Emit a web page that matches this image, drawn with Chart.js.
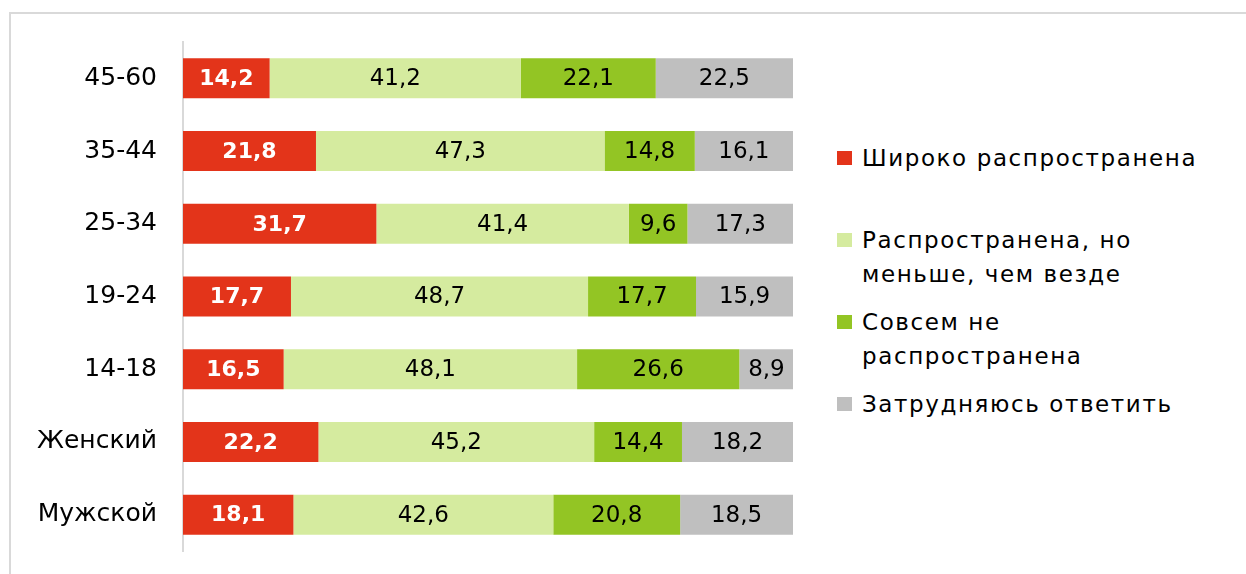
<!DOCTYPE html>
<html>
<head>
<meta charset="utf-8">
<script src="https://cdn.jsdelivr.net/npm/chart.js@4.4.1/dist/chart.umd.min.js"></script>
<style>
  html, body { margin: 0; background: #fff; overflow: hidden; font-family: "DejaVu Sans", sans-serif; }
  #frame { position: absolute; left: 9px; top: 12px; width: 1237px; height: 562px;
           border-left: 2px solid #d9d9d9; border-top: 2px solid #d9d9d9; box-sizing: border-box; }
  #wrap { position: absolute; left: 0; top: 0; width: 830px; height: 574px; }
  #legend { position: absolute; left: 837px; top: 141px; margin: 0; padding: 0; list-style: none;
            font-size: 23px; line-height: 34px; letter-spacing: 1.6px; color: #000; }
  #legend li { position: relative; padding-left: 25px; margin-bottom: 14px; white-space: nowrap; }
  #legend li:first-child { margin-bottom: 48px; }
  #legend li span { position: absolute; left: 0; top: 10px; width: 15px; height: 14px; }
</style>
</head>
<body>
<div id="frame"></div>
<div id="wrap"><canvas id="chart"></canvas></div>
<ul id="legend"></ul>
<script>
const categories = ["45-60", "35-44", "25-34", "19-24", "14-18", "Женский", "Мужской"];
const seriesNames = ["Широко распространена", "Распространена, но\nменьше, чем везде", "Совсем не\nраспространена", "Затрудняюсь ответить"];
const widespread = [14.2, 21.8, 31.7, 17.7, 16.5, 22.2, 18.1];
const lessThanElsewhere = [41.2, 47.3, 41.4, 48.7, 48.1, 45.2, 42.6];
const notAtAll = [22.1, 14.8, 9.6, 17.7, 26.6, 14.4, 20.8];
const hardToSay = [22.5, 16.1, 17.3, 15.9, 8.9, 18.2, 18.5];
const colors = ["#e3341a", "#d5eb9f", "#93c524", "#bfbfbf"];
const labelColors = ["#ffffff", "#000000", "#000000", "#000000"];

const FONT = '"DejaVu Sans", sans-serif';

// value labels inside the bars
const barLabels = {
  id: "barLabels",
  afterDatasetsDraw(chart) {
    const ctx = chart.ctx;
    ctx.save();
    ctx.textAlign = "center";
    ctx.textBaseline = "middle";
    chart.data.datasets.forEach((ds, i) => {
      const meta = chart.getDatasetMeta(i);
      ctx.font = (i === 0 ? "bold 22px " : "23px ") + FONT;
      ctx.fillStyle = labelColors[i];
      meta.data.forEach((bar, j) => {
        const text = ds.data[j].toFixed(1).replace(".", ",");
        ctx.fillText(text, (bar.x + bar.base) / 2, bar.y + 1);
      });
    });
    ctx.restore();
  }
};

const seriesData = [widespread, lessThanElsewhere, notAtAll, hardToSay];

const chart = new Chart(document.getElementById("chart"), {
  type: "bar",
  data: {
    labels: categories,
    datasets: seriesData.map((data, i) => ({
      label: seriesNames[i],
      data,
      backgroundColor: colors[i],
      borderWidth: 0,
      barPercentage: 0.55,
      categoryPercentage: 1
    }))
  },
  options: {
    indexAxis: "y",
    responsive: true,
    maintainAspectRatio: false,
    animation: false,
    layout: { padding: { top: 42, bottom: 23, left: 0, right: 37 } },
    plugins: {
      legend: { display: false },
      tooltip: { enabled: false }
    },
    scales: {
      x: { stacked: true, min: 0, max: 100, display: false },
      y: {
        stacked: true,
        grid: { display: false, drawTicks: false },
        border: { display: true, color: "#d9d9d9", width: 2 },
        ticks: { color: "#000", padding: 26, font: { family: FONT, size: 25 } },
        afterFit(scale) {
          scale.width = 183;
          scale.paddingTop = 0;
          scale.paddingBottom = 0;
        }
      }
    }
  },
  plugins: [barLabels]
});

const legendEl = document.getElementById("legend");
chart.data.datasets.forEach(ds => {
  const li = document.createElement("li");
  const box = document.createElement("span");
  box.style.background = ds.backgroundColor;
  li.appendChild(box);
  ds.label.split("\n").forEach((line, k) => {
    if (k > 0) li.appendChild(document.createElement("br"));
    li.appendChild(document.createTextNode(line));
  });
  legendEl.appendChild(li);
});
</script>
</body>
</html>
